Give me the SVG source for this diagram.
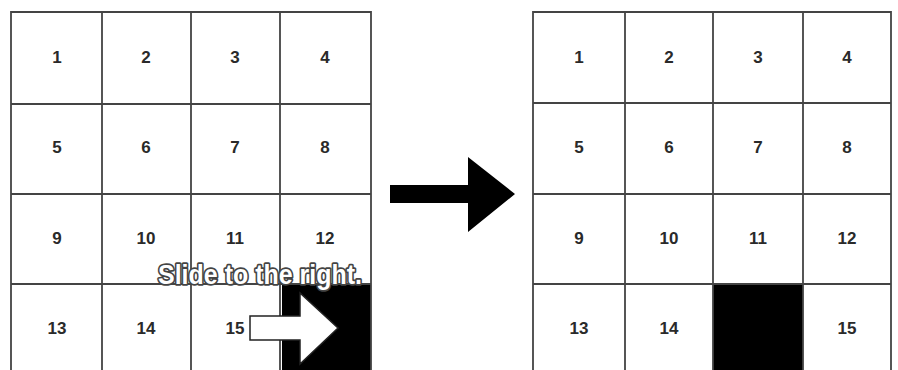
<svg xmlns="http://www.w3.org/2000/svg" width="898" height="370" viewBox="0 0 898 370">
<style>
.grid{stroke:#444;stroke-width:1.8;fill:none}
.n{font-family:"Liberation Sans",Arial,sans-serif;font-weight:bold;font-size:17px;fill:#2a2a2a;text-anchor:middle;dominant-baseline:central}
.cap{font-family:"Liberation Sans",Arial,sans-serif;font-weight:bold;font-size:27px;fill:#fff;stroke:#444;stroke-width:3.5;paint-order:stroke;stroke-linejoin:round}
</style>
<rect width="898" height="370" fill="#fff"/>
<g id="left-board">
<rect x="282" y="284" width="89" height="86" fill="#000"/>
<path class="grid" d="M11,370 V12 H371 V370 M102,12 V370 M191,12 V370 M280,12 V370 M11,104 H371 M11,194 H371 M11,284 H371"/>
<text class="n" x="57" y="57">1</text><text class="n" x="146" y="57">2</text><text class="n" x="235" y="57">3</text><text class="n" x="325" y="57">4</text>
<text class="n" x="57" y="147">5</text><text class="n" x="146" y="147">6</text><text class="n" x="235" y="147">7</text><text class="n" x="325" y="147">8</text>
<text class="n" x="57" y="238">9</text><text class="n" x="146" y="238">10</text><text class="n" x="235" y="238">11</text><text class="n" x="325" y="238">12</text>
<text class="n" x="57" y="328">13</text><text class="n" x="146" y="328">14</text><text class="n" x="235" y="328">15</text>
</g>
<g id="slide-arrow">
<polygon points="250,316 300,316 300,293 338,328 300,364 300,340 250,340" fill="#fff" stroke="#222" stroke-width="1.5"/>
</g>
<g id="caption">
<text class="cap" x="158" y="284" textLength="204" lengthAdjust="spacingAndGlyphs">Slide to the right.</text>
</g>
<g id="connectors">
<polygon points="390,185 468,185 468,157 515,194 468,232 468,203 390,203" fill="#000"/>
</g>
<g id="right-board">
<rect x="713" y="284" width="90" height="86" fill="#000"/>
<path class="grid" d="M533,370 V12 H891 V370 M625,12 V370 M713,12 V370 M803,12 V370 M533,103 H891 M533,194 H891 M533,284 H891"/>
<text class="n" x="579" y="57">1</text><text class="n" x="669" y="57">2</text><text class="n" x="758" y="57">3</text><text class="n" x="847" y="57">4</text>
<text class="n" x="579" y="147">5</text><text class="n" x="669" y="147">6</text><text class="n" x="758" y="147">7</text><text class="n" x="847" y="147">8</text>
<text class="n" x="579" y="238">9</text><text class="n" x="669" y="238">10</text><text class="n" x="758" y="238">11</text><text class="n" x="847" y="238">12</text>
<text class="n" x="579" y="328">13</text><text class="n" x="669" y="328">14</text><text class="n" x="847" y="328">15</text>
</g>
</svg>
